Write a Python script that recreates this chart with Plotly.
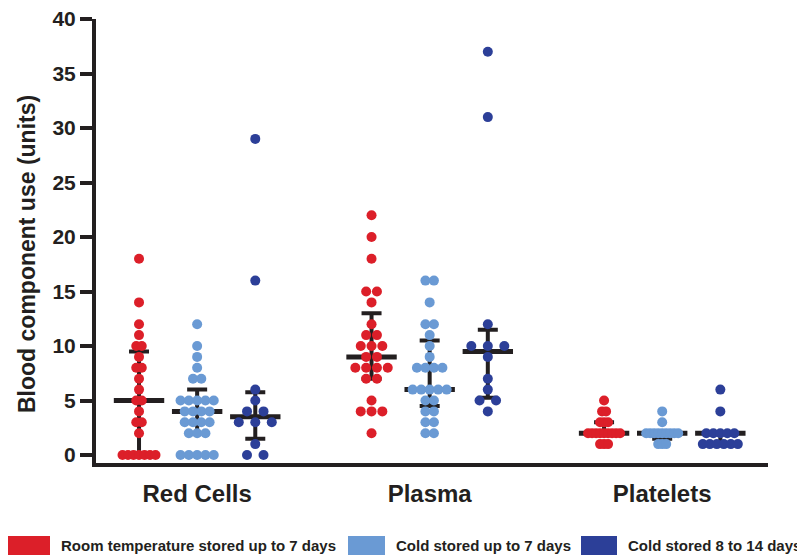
import plotly.graph_objects as go
from collections import Counter

# ---------------- data ----------------
categories = ["Red Cells", "Plasma", "Platelets"]
series_names = ["Room temperature stored up to 7 days",
                "Cold stored up to 7 days",
                "Cold stored 8 to 14 days"]

rbc_room = [18, 14, 12, 11, 10, 10, 9, 8, 8, 7, 6, 5, 5, 4, 3, 3, 2, 0, 0, 0, 0, 0, 0, 0]
rbc_cold7 = [12, 10, 9, 8, 7, 7, 5, 5, 5, 5, 5, 4, 4, 4, 4, 3, 3, 3, 3, 2, 2, 2, 0, 0, 0, 0, 0]
rbc_cold14 = [29, 16, 6, 5, 4, 4, 3, 3, 3, 1, 0, 0]

plasma_room = [22, 20, 18, 15, 15, 14, 12, 11, 11, 10, 10, 10, 9, 9, 8, 8, 8, 8, 7, 7, 5, 4, 4, 4, 2]
plasma_cold7 = [16, 16, 14, 12, 12, 11, 10, 9, 8, 8, 8, 8, 6, 6, 6, 6, 6, 5, 5, 4, 4, 3, 3, 2, 2]
plasma_cold14 = [37, 31, 12, 10, 10, 10, 9, 7, 6, 5, 5, 4]

plt_room = [5, 4, 4, 3, 3, 3, 2, 2, 2, 2, 2, 2, 2, 2, 2, 1, 1, 1]
plt_cold7 = [4, 3, 2, 2, 2, 2, 2, 2, 2, 2, 2, 1, 1, 1]
plt_cold14 = [6, 4, 2, 2, 2, 2, 2, 1, 1, 1, 1, 1, 1]

# median and interquartile range bars (per category, per series)
medians = [[5, 4, 3.5], [9, 6, 9.5], [2, 2, 2]]
q1s = [[0, 2, 1.5], [7, 4.5, 5.25], [2, 1.5, 1]]
q3s = [[9.5, 6, 5.75], [13, 10.5, 11.5], [3, 2, 2]]

y_ticks = [0, 5, 10, 15, 20, 25, 30, 35, 40]

groups = [[rbc_room, rbc_cold7, rbc_cold14],
          [plasma_room, plasma_cold7, plasma_cold14],
          [plt_room, plt_cold7, plt_cold14]]

# ---------------- styling ----------------
colors = ["#DC1F29", "#6A9AD4", "#2C3F98"]
dark = "#231F20"
FONT = "Liberation Sans"
W, H = 805, 556
OFF = 8                       # page body margin offset
PLOT_L, PLOT_R, PLOT_T, PLOT_B = 96, 768, 19, 463   # target page pixels
L = PLOT_L - OFF
T = PLOT_T - OFF
R = W - (PLOT_R - OFF)
B = H - (PLOT_B - OFF)
X_RANGE = [-0.435, 2.455]
Y_RANGE = [-0.734, 40]
px_per_x = (PLOT_R - PLOT_L) / (X_RANGE[1] - X_RANGE[0])
offsets = [-0.25, 0, 0.25]
spacing_px = [[5.5, 8.3, 16.5], [10.8, 8.5, 16.5], [4, 4, 7]]

fig = go.Figure()

# median + IQR bars
for gi in range(3):
    for si in range(3):
        xc = gi + offsets[si]
        med = medians[gi][si]
        fig.add_trace(go.Scatter(
            x=[xc], y=[med], mode="markers", showlegend=False, hoverinfo="skip",
            marker=dict(symbol="line-ew", size=36, color=dark,
                        line=dict(color=dark, width=5)),
            error_y=dict(type="data", symmetric=False,
                         array=[q3s[gi][si] - med], arrayminus=[med - q1s[gi][si]],
                         color=dark, thickness=4, width=10),
        ))

# dots, spread horizontally when values repeat
for si in range(3):
    xs, ys = [], []
    for gi in range(3):
        vals = groups[gi][si]
        counts = Counter(vals)
        seen = Counter()
        sp = spacing_px[gi][si] / px_per_x
        for v in vals:
            k = counts[v]
            i = seen[v]
            seen[v] += 1
            xs.append(gi + offsets[si] + (i - (k - 1) / 2) * sp)
            ys.append(v)
    fig.add_trace(go.Scatter(
        x=xs, y=ys, mode="markers", name=series_names[si], showlegend=False,
        marker=dict(size=10, color=colors[si], line=dict(width=0)),
    ))

fig.update_layout(
    width=W, height=H,
    margin=dict(l=L, r=R, t=T, b=B),
    paper_bgcolor="white", plot_bgcolor="white",
    font=dict(family=FONT, color=dark),
)
fig.update_xaxes(
    range=X_RANGE, showgrid=False, zeroline=False, automargin=False,
    showline=True, linewidth=4, linecolor=dark,
    tickvals=[0, 1, 2], ticktext=categories, ticks="",
    tickfont=dict(family=FONT, size=24, color=dark, weight="bold"),
    ticklabelstandoff=6,
)
fig.update_yaxes(
    range=Y_RANGE, showgrid=False, zeroline=False, automargin=False,
    showline=True, linewidth=4, linecolor=dark,
    tickvals=y_ticks, ticks="outside", ticklen=12, tickwidth=4, tickcolor=dark,
    tickfont=dict(family=FONT, size=21, color=dark, weight="bold"),
    ticklabeloverflow="allow",
)

def px(xp):
    return (xp - PLOT_L) / (PLOT_R - PLOT_L)

def py(yp):
    return (PLOT_B - yp) / (PLOT_B - PLOT_T)

# y-axis title
fig.add_annotation(
    x=px(27), y=py(254), xref="paper", yref="paper", showarrow=False,
    text="Blood component use (units)", textangle=-90,
    font=dict(family=FONT, size=23, color=dark, weight="bold"),
    xanchor="center", yanchor="middle",
)

# legend
legend_boxes = [(6, 50), (348, 385), (581, 617)]
legend_text_x = [59, 394, 626]
for si in range(3):
    x0, x1 = legend_boxes[si]
    fig.add_shape(type="rect", xref="paper", yref="paper",
                  x0=px(x0), x1=px(x1), y0=py(555), y1=py(536),
                  fillcolor=colors[si], line=dict(width=0))
    fig.add_annotation(
        x=px(legend_text_x[si]), y=py(545), xref="paper", yref="paper",
        showarrow=False, text=series_names[si], xanchor="left", yanchor="middle",
        font=dict(family=FONT, size=15, color=dark, weight="bold"),
    )

fig.write_html("out.html")
